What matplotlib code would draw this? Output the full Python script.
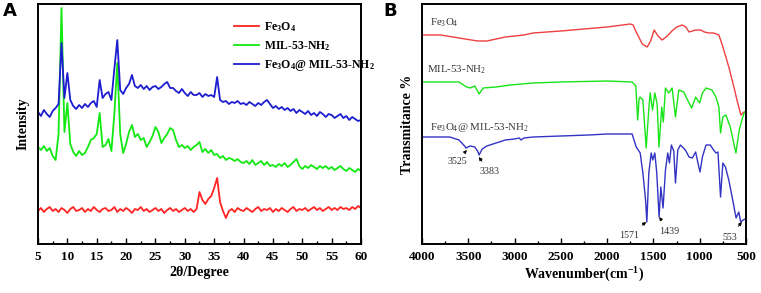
import numpy as np
import matplotlib
matplotlib.use("Agg")
import matplotlib.pyplot as plt
from matplotlib.ticker import MultipleLocator

plt.rcParams['font.family'] = ['Liberation Serif', 'DejaVu Serif']
plt.rcParams['mathtext.default'] = 'regular'

# ---------------- Panel A: XRD (2theta 5..60, step 0.5) ----------------
two_theta = np.linspace(5, 60, 111)
xrd_fe3o4 = [
    33, 36, 32, 35, 37, 33, 35, 32, 36, 34,
    31, 35, 37, 33, 34, 36, 32, 35, 33, 37,
    34, 32, 35, 36, 33, 34, 37, 32, 35, 33,
    36, 34, 31, 35, 34, 37, 33, 35, 32, 34,
    36, 33, 35, 31, 34, 36, 33, 35, 32, 34,
    36, 33, 35, 32, 35, 52, 44, 40, 45, 48,
    56, 66, 42, 33, 26, 33, 35, 32, 36, 34,
    33, 36, 34, 32, 35, 37, 33, 35, 34, 36,
    32, 35, 33, 36, 34, 32, 35, 37, 33, 35,
    34, 36, 33, 35, 37, 34, 36, 33, 35, 37,
    34, 36, 34, 37, 35, 36, 34, 37, 35, 38,
    36]
xrd_mil = [
    97, 94, 98, 93, 96, 88, 84, 110, 236, 112,
    141, 100, 92, 88, 93, 89, 91, 97, 104, 106,
    110, 131, 97, 99, 105, 93, 130, 181, 110, 91,
    100, 112, 119, 107, 110, 104, 106, 97, 102, 108,
    117, 112, 101, 106, 110, 116, 114, 104, 97, 99,
    96, 98, 94, 97, 99, 102, 92, 95, 91, 94,
    89, 90, 86, 88, 84, 86, 85, 83, 85, 82,
    81, 83, 80, 84, 79, 81, 83, 79, 82, 78,
    79, 77, 80, 78, 81, 77, 79, 82, 85, 78,
    75, 78, 76, 79, 77, 75, 78, 76, 78, 75,
    77, 74, 76, 78, 75, 73, 76, 74, 72, 75,
    73]
xrd_composite = [
    132, 128, 134, 130, 127, 133, 136, 140, 201, 146,
    171, 144, 138, 135, 139, 136, 140, 137, 141, 143,
    137, 164, 146, 150, 152, 144, 175, 204, 154, 150,
    156, 160, 169, 158, 156, 159, 155, 158, 154, 157,
    158, 155, 157, 160, 162, 156, 156, 153, 151, 155,
    151, 148, 152, 149, 149, 151, 147, 150, 148, 149,
    147, 167, 144, 142, 143, 140, 142, 141, 143, 140,
    141, 139, 142, 140, 138, 141, 139, 142, 144, 140,
    136, 138, 135, 137, 134, 136, 133, 135, 131, 134,
    132, 130, 133, 129, 131, 128, 132, 130, 127, 130,
    129, 126, 128, 130, 126, 128, 124, 127, 125, 123,
    124]
xrd_labels = ['Fe$_3$O$_4$', 'MIL-53-NH$_2$', 'Fe$_3$O$_4$@ MIL-53-NH$_2$']
xrd_ticks = [5, 10, 15, 20, 25, 30, 35, 40, 45, 50, 55, 60]

# ---------------- Panel B: FTIR ----------------
ir_fe3o4_wn = [4000, 3800, 3600, 3400, 3300, 3100, 2900, 2800, 2500, 2000,
               1750, 1720, 1686, 1620, 1567, 1530, 1492, 1450, 1406, 1350,
               1300, 1250, 1190, 1150, 1115, 1080, 1040, 990, 950, 900,
               850, 793, 760, 717, 680, 650, 620, 598, 575, 555,
               523, 510, 500]
ir_fe3o4_t = [209, 209, 206, 203, 203, 207, 209, 211, 213, 217,
              220, 219, 212, 200, 197, 203, 214, 208, 204, 208,
              213, 217, 219, 217, 212, 213, 214, 214, 212, 211,
              211, 209, 200, 187, 175, 164, 153, 144, 136, 129,
              132, 132, 134]
ir_mil_wn = [4000, 3600, 3520, 3480, 3430, 3383, 3340, 3200, 3050, 2800,
             2500, 2000, 1730, 1690, 1670, 1655, 1643, 1614, 1578, 1550,
             1535, 1510, 1485, 1460, 1440, 1410, 1393, 1370, 1334, 1298,
             1262, 1226, 1173, 1115, 1087, 1044, 1000, 971, 932, 868,
             825, 793, 775, 750, 717, 670, 609, 573, 538, 520,
             500]
ir_mil_t = [162, 162, 157, 156, 158, 150, 156, 157, 159, 161,
            162, 163, 162, 158, 124, 145, 147, 144, 96, 135,
            151, 134, 151, 140, 97, 137, 122, 156, 151, 156,
            127, 154, 152, 141, 136, 147, 141, 151, 156, 154,
            147, 137, 111, 127, 129, 117, 91, 114, 126, 131,
            133]
ir_comp_wn = [4000, 3700, 3600, 3540, 3525, 3480, 3430, 3400, 3383, 3350,
              3300, 3200, 3100, 3000, 2950, 2930, 2900, 2800, 2500, 2200,
              2000, 1730, 1686, 1643, 1614, 1585, 1571, 1550, 1524, 1507,
              1485, 1464, 1439, 1420, 1396, 1370, 1345, 1327, 1306, 1280,
              1262, 1237, 1208, 1155, 1115, 1080, 1044, 1019, 997, 971,
              932, 886, 850, 825, 803, 775, 750, 722, 686, 650,
              607, 578, 557, 530, 510]
ir_comp_t = [107, 107, 104, 98, 96, 98, 97, 93, 89, 95,
             98, 101, 104, 105, 106, 104, 106, 107, 108, 109,
             110, 110, 97, 91, 71, 44, 22, 71, 91, 84,
             91, 71, 27, 57, 36, 74, 91, 81, 99, 93,
             61, 94, 99, 94, 87, 86, 92, 81, 72, 87,
             99, 99, 94, 91, 92, 47, 81, 77, 64, 47,
             26, 32, 22, 24, 25]
ir_ticks = [4000, 3500, 3000, 2500, 2000, 1500, 1000, 500]
peak_labels = ['3525', '3383', '1571', '1439', '553']
peak_wn = [3516, 3386, 1578, 1438, 545]
peak_t = [94, 87, 22, 27, 22]

c_red = '#ff2323'
c_green = '#12e812'
c_blue = '#1c1cd0'
c_red_b = '#ee4040'
c_green_b = '#18e418'
c_blue_b = '#3333c4'

fig = plt.figure(figsize=(7.61, 2.93), dpi=100)
axA = fig.add_axes([38/761, 1-244/293, 323/761, 240/293])
axB = fig.add_axes([422/761, 1-244/293, 324/761, 240/293])

tick_font = dict(family='Liberation Serif', weight='bold', size=9.5)

# Panel A
axA.plot(two_theta, xrd_fe3o4, color=c_red, lw=1.3, label=xrd_labels[0])
axA.plot(two_theta, xrd_mil, color=c_green, lw=1.3, label=xrd_labels[1])
axA.plot(two_theta, xrd_composite, color=c_blue, lw=1.3, label=xrd_labels[2])
axA.set_xlim(5, 60)
axA.set_ylim(0, 240)
axA.set_xticks(xrd_ticks)
axA.xaxis.set_minor_locator(MultipleLocator(2.5))
axA.set_yticks([])
axA.tick_params(axis='x', which='major', direction='in', length=4, width=1, pad=5)
axA.tick_params(axis='x', which='minor', direction='in', length=2.5, width=1)
for lab in axA.get_xticklabels():
    lab.set_fontproperties(matplotlib.font_manager.FontProperties(**tick_font))
axA.set_xlabel('2θ/Degree', fontsize=10, fontweight='bold', labelpad=2)
axA.set_ylabel('Intensity', fontsize=10, fontweight='bold', labelpad=6)
leg = axA.legend(loc='upper left', bbox_to_anchor=(0.575, 0.975), frameon=False,
                 handlelength=2.1, handletextpad=0.4, labelspacing=0.4,
                 prop=dict(family='Liberation Serif', weight='bold', size=8.5))
for sp in axA.spines.values():
    sp.set_linewidth(1.4)

# Panel B
axB.plot(ir_fe3o4_wn, ir_fe3o4_t, color=c_red_b, lw=1.0)
axB.plot(ir_mil_wn, ir_mil_t, color=c_green_b, lw=1.0)
axB.plot(ir_comp_wn, ir_comp_t, color=c_blue_b, lw=1.0)
axB.set_xlim(4000, 500)
axB.set_ylim(0, 240)
axB.set_xticks(ir_ticks)
axB.xaxis.set_minor_locator(MultipleLocator(250))
axB.set_yticks([])
axB.tick_params(axis='x', which='major', direction='in', length=4, width=1, pad=5)
axB.tick_params(axis='x', which='minor', direction='in', length=2.5, width=1)
for lab in axB.get_xticklabels():
    lab.set_fontproperties(matplotlib.font_manager.FontProperties(**tick_font))
axB.set_xlabel('Wavenumber(cm$^{-1}$)', fontsize=10, fontweight='bold', labelpad=2)
axB.set_ylabel('Transmitance %', fontsize=10, fontweight='bold', labelpad=6)
for sp in axB.spines.values():
    sp.set_linewidth(1.4)

series_text_pos = [(3914, 221), (3946, 174), (3914, 117)]
for lab, (tx, ty) in zip(xrd_labels, series_text_pos):
    axB.text(tx, ty, lab, fontsize=7.8, ha='left', va='center', color='#333333')

text_pos = [(3623, 82), (3268, 72), (1761, 9), (1330, 13), (674, 7)]
for lab, wx, ty, (tx, tty) in zip(peak_labels, peak_wn, peak_t, text_pos):
    axB.annotate(lab, xy=(wx, ty), xytext=(tx, tty), fontsize=7.2, ha='center', va='center',
                 color='#333333',
                 arrowprops=dict(arrowstyle='-|>', color='black', lw=0.6,
                                 mutation_scale=5, shrinkA=3, shrinkB=0))

fig.text(3/761, 1-2/293, 'A', fontsize=13, fontweight='bold', family='DejaVu Sans',
         ha='left', va='top')
fig.text(383/761, 1-2/293, 'B', fontsize=13, fontweight='bold', family='DejaVu Sans',
         ha='left', va='top')

fig.savefig('out.png', dpi=100)
